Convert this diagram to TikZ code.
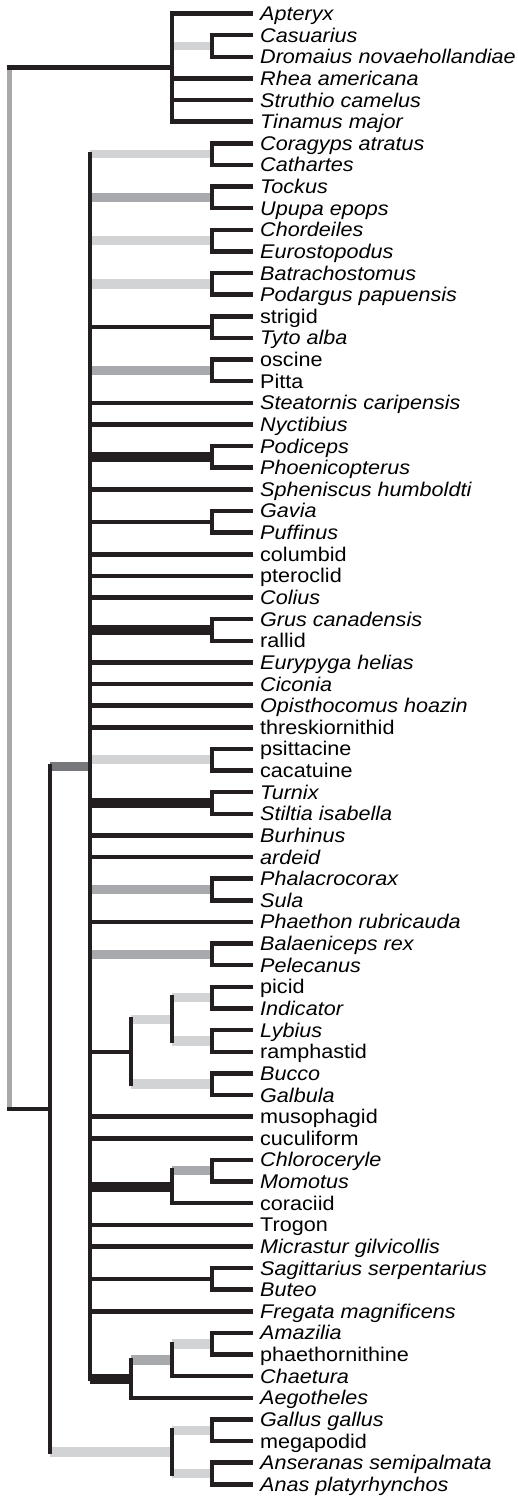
\documentclass[tikz,border=0pt]{standalone}
\usepackage{fontspec}
\setmainfont{Liberation Sans}[FakeStretch=1.09]
\usetikzlibrary{calc}

\definecolor{treeblack}{HTML}{231F20}
\definecolor{suplow}{HTML}{D1D3D4}
\definecolor{supmid}{HTML}{A7A9AC}
\definecolor{suphigh}{HTML}{77787B}

\tikzset{
  stem/.style={line width=4.5pt, draw=treeblack},
  fork/.style={stem, line cap=rect},
  rootstem/.style={stem, line cap=rect},
  boldbar/.style={line width=10pt, draw=treeblack},
  lowbar/.style={line width=9.5pt, draw=suplow},
  thinbar/.style={line width=7.5pt, draw=suplow},
  midbar/.style={line width=9.5pt, draw=supmid},
  highbar/.style={line width=9.5pt, draw=suphigh},
  taxon/.style={anchor=base west, inner sep=0pt, font=\fontsize{19.8}{20}\selectfont\itshape}
}

% joint #1 at x=#4, halfway between #2 and #3
\newcommand{\joint}[4]{\path let \p1=($(#2)!.5!(#3)$) in coordinate (#1) at (#4pt,\y1);}

\begin{document}
\begin{tikzpicture}[x=1pt, y=-1pt]
        \useasboundingbox (0,0) rectangle (518,1498);

        % Taxa
        \foreach \lab [count=\i] in {Apteryx, Casuarius, Dromaius novaehollandiae, Rhea americana,
            Struthio camelus, Tinamus major, Coragyps atratus, Cathartes, Tockus, Upupa epops,
            Chordeiles, Eurostopodus, Batrachostomus, Podargus papuensis, \textup{strigid}, Tyto alba,
            \textup{oscine}, \textup{Pitta}, Steatornis caripensis, Nyctibius, Podiceps, Phoenicopterus,
            Spheniscus humboldti, Gavia, Puffinus, \textup{columbid}, \textup{pteroclid}, Colius,
            Grus canadensis, \textup{rallid}, Eurypyga helias, Ciconia, Opisthocomus hoazin,
            \textup{threskiornithid}, \textup{psittacine}, \textup{cacatuine}, Turnix, Stiltia isabella,
            Burhinus, ardeid, Phalacrocorax, Sula, Phaethon rubricauda, Balaeniceps rex, Pelecanus,
            \textup{picid}, Indicator, Lybius, \textup{ramphastid}, Bucco, Galbula, \textup{musophagid},
            \textup{cuculiform}, Chloroceryle, Momotus, \textup{coraciid}, \textup{Trogon},
            Micrastur gilvicollis, Sagittarius serpentarius, Buteo, Fregata magnificens, Amazilia,
            \textup{phaethornithine}, Chaetura, Aegotheles, Gallus gallus, \textup{megapodid},
            Anseranas semipalmata, Anas platyrhynchos} {
            \coordinate (tip\i) at (253,{13.5+(\i-1)*21.63});
            \node[taxon] (tx\i) at (260,{20.5+(\i-1)*21.63}) {\lab};
        }

        % Joints
        \joint{cas}{tip2}{tip3}{212}
        \joint{pal}{tip1}{tip6}{172}
        \joint{cat}{tip7}{tip8}{212}
        \joint{upu}{tip9}{tip10}{212}
        \joint{nig}{tip11}{tip12}{212}
        \joint{pod}{tip13}{tip14}{212}
        \joint{str}{tip15}{tip16}{212}
        \joint{pas}{tip17}{tip18}{212}
        \joint{phn}{tip21}{tip22}{212}
        \joint{gav}{tip24}{tip25}{212}
        \joint{gru}{tip29}{tip30}{212}
        \joint{psi}{tip35}{tip36}{212}
        \joint{tur}{tip37}{tip38}{212}
        \joint{sul}{tip41}{tip42}{212}
        \joint{pel}{tip44}{tip45}{212}
        \joint{pca}{tip46}{tip47}{212}
        \joint{lyb}{tip48}{tip49}{212}
        \joint{buc}{tip50}{tip51}{212}
        \joint{rmp}{pca}{lyb}{172}
        \joint{pic}{rmp}{buc}{131}
        \joint{mom}{tip54}{tip55}{212}
        \joint{cor}{mom}{tip56}{172}
        \joint{acc}{tip59}{tip60}{212}
        \joint{hum}{tip62}{tip63}{212}
        \joint{swf}{hum}{tip64}{172}
        \joint{apo}{swf}{tip65}{131}
        \joint{neo}{cat}{apo}{90}
        \joint{gll}{tip66}{tip67}{212}
        \joint{ans}{tip68}{tip69}{212}
        \joint{gan}{gll}{ans}{172}
        \joint{ngn}{neo}{gan}{50}
        \joint{root}{pal}{ngn}{9.5}

        % Root
        \draw[line width=4.5pt, draw=supmid] (root |- pal) -- (root |- ngn);
        \draw[rootstem] (root |- pal) -- (pal);
        \draw[rootstem] (root |- ngn) -- (ngn);

        % Terminal branches
        \foreach \j/\k in {pal/1, cas/2, cas/3, pal/4, pal/5, pal/6, cat/7, cat/8, upu/9, upu/10,
            nig/11, nig/12, pod/13, pod/14, str/15, str/16, pas/17, pas/18, neo/19, neo/20,
            phn/21, phn/22, neo/23, gav/24, gav/25, neo/26, neo/27, neo/28, gru/29, gru/30,
            neo/31, neo/32, neo/33, neo/34, psi/35, psi/36, tur/37, tur/38, neo/39, neo/40,
            sul/41, sul/42, neo/43, pel/44, pel/45, pca/46, pca/47, lyb/48, lyb/49, buc/50,
            buc/51, neo/52, neo/53, mom/54, mom/55, cor/56, neo/57, neo/58, acc/59, acc/60,
            neo/61, hum/62, hum/63, swf/64, apo/65, gll/66, gll/67, ans/68, ans/69}
            \draw[stem] (\j |- tip\k) -- (tip\k);

        % Internal branches, shaded by support
        \foreach \j/\c/\s in {pal/cas/thinbar, neo/cat/thinbar, neo/upu/midbar, neo/nig/lowbar,
            neo/pod/lowbar, neo/str/stem, neo/pas/midbar, neo/phn/boldbar, neo/gav/stem,
            neo/gru/boldbar, neo/psi/lowbar, neo/tur/boldbar, neo/sul/midbar, neo/pel/midbar,
            neo/pic/stem, pic/rmp/lowbar, rmp/pca/lowbar, rmp/lyb/lowbar, pic/buc/lowbar,
            neo/cor/boldbar, cor/mom/midbar, neo/acc/stem, neo/apo/boldbar, apo/swf/midbar,
            swf/hum/lowbar, ngn/neo/highbar, ngn/gan/lowbar, gan/gll/lowbar, gan/ans/lowbar}
            \draw[\s] (\j |- \c) -- (\c);

        % Forks
        \foreach \j/\a/\b in {pal/tip1/tip6, cas/tip2/tip3, cat/tip7/tip8, upu/tip9/tip10,
            nig/tip11/tip12, pod/tip13/tip14, str/tip15/tip16, pas/tip17/tip18, phn/tip21/tip22,
            gav/tip24/tip25, gru/tip29/tip30, psi/tip35/tip36, tur/tip37/tip38, sul/tip41/tip42,
            pel/tip44/tip45, pca/tip46/tip47, lyb/tip48/tip49, buc/tip50/tip51, rmp/pca/lyb,
            pic/rmp/buc, mom/tip54/tip55, cor/mom/tip56, acc/tip59/tip60, hum/tip62/tip63,
            swf/hum/tip64, apo/swf/tip65, neo/cat/apo, gll/tip66/tip67, ans/tip68/tip69,
            gan/gll/ans, ngn/neo/gan}
            \draw[fork] (\j |- \a) -- (\j |- \b);
    \end{tikzpicture}
\end{document}
